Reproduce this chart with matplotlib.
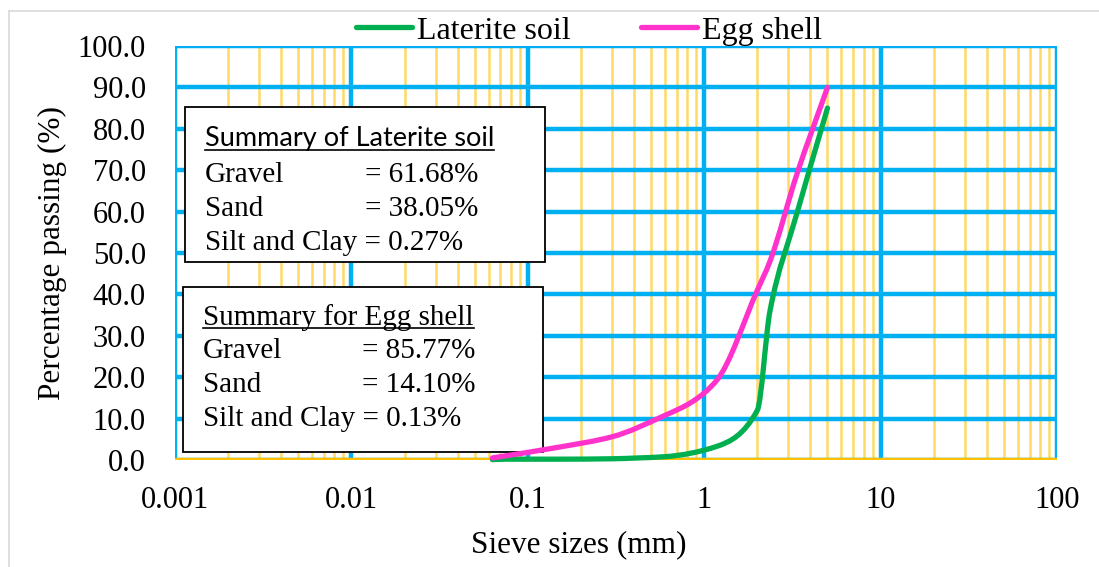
import numpy as np
import matplotlib
matplotlib.use("Agg")
import matplotlib.pyplot as plt
from matplotlib.path import Path
from matplotlib.patches import PathPatch, Rectangle
from matplotlib.lines import Line2D
from matplotlib.transforms import IdentityTransform
from matplotlib.ticker import FixedLocator, FuncFormatter, NullFormatter

# ---------------- data ----------------
sieve_laterite = [0.063, 0.075, 0.15, 0.3, 0.425, 0.6, 1.18, 2.0, 2.36, 3.35, 5.0]
pass_laterite = [0.1, 0.2, 0.2, 0.3, 0.5, 0.8, 3.3, 12.0, 36.0, 59.5, 85.0]
sieve_egg = [0.063, 0.15, 0.3, 0.6, 0.85, 1.18, 2.0, 2.36, 3.35, 5.0]
pass_egg = [0.5, 3.1, 5.6, 10.8, 14.0, 19.3, 41.0, 48.0, 69.0, 90.0]
series_names = ["Laterite soil", "Egg shell"]
x_ticks = [0.001, 0.01, 0.1, 1, 10, 100]
x_tick_labels = ["0.001", "0.01", "0.1", "1", "10", "100"]
y_ticks = [0, 10, 20, 30, 40, 50, 60, 70, 80, 90, 100]
box1_title = "Summary of Laterite soil"
box1_rows = [("Gravel", "= 61.68%"), ("Sand", "= 38.05%"), ("Silt and Clay = 0.27%", None)]
box2_title = "Summary for Egg shell"
box2_rows = [("Gravel", "= 85.77%"), ("Sand", "= 14.10%"), ("Silt and Clay = 0.13%", None)]

# ---------------- style ----------------
W, H = 1099, 567
SERIF = ["Liberation Serif", "DejaVu Serif"]
GREEN = "#00B050"
PINK = "#FF33CC"
BLUE = "#00B0F0"
YELLOW = "#FFD966"
GOLD = "#FFC000"

plt.rcParams["font.family"] = SERIF
fig = plt.figure(figsize=(W / 100, H / 100), dpi=100)
ax = fig.add_axes([175 / W, 1 - 460 / H, 882 / W, 414 / H])

ax.set_xscale("log")
ax.set_xlim(0.001, 100)
ax.set_ylim(0, 100)

for s in ax.spines.values():
    s.set_visible(False)

ax.xaxis.set_major_locator(FixedLocator(x_ticks))
ax.xaxis.set_major_formatter(FuncFormatter(lambda v, p: x_tick_labels[x_ticks.index(v)] if v in x_ticks else ""))
minor = [m * 10.0 ** e for e in range(-3, 2) for m in range(2, 10)]
ax.xaxis.set_minor_locator(FixedLocator(minor))
ax.xaxis.set_minor_formatter(NullFormatter())
ax.yaxis.set_major_locator(FixedLocator(y_ticks))
ax.yaxis.set_major_formatter(FuncFormatter(lambda v, p: f"{v:.1f}"))

ax.tick_params(axis="both", which="both", length=0)
ax.tick_params(axis="x", which="major", labelsize=22, pad=19)
ax.tick_params(axis="y", which="major", labelsize=22, pad=21)

ax.grid(True, axis="x", which="minor", color=YELLOW, lw=1.8, zorder=0)
ax.grid(True, axis="x", which="major", color=BLUE, lw=3.2, zorder=0.5)
ax.grid(True, axis="y", which="major", color=BLUE, lw=3.2, zorder=0.5)
ax.set_axisbelow(True)
# bottom gold axis line
ax.axhline(0, color=GOLD, lw=3.2, zorder=2, solid_capstyle="butt")

# summary boxes (axes fraction)
def px2ax(x, y):
    return ((x - 175) / 882, (460 - y) / 414)

b1 = px2ax(185, 262); b1t = px2ax(545, 107)
ax.add_patch(Rectangle(b1, b1t[0] - b1[0], b1t[1] - b1[1], transform=ax.transAxes,
                       facecolor="white", edgecolor="black", lw=1.3, zorder=3))
b2 = px2ax(183, 452); b2t = px2ax(543, 287)
ax.add_patch(Rectangle(b2, b2t[0] - b2[0], b2t[1] - b2[1], transform=ax.transAxes,
                       facecolor="white", edgecolor="black", lw=1.3, zorder=3))

# legend handles for lines
h1 = Line2D([], [], color=GREEN, lw=3.8, solid_capstyle="round")
h2 = Line2D([], [], color=PINK, lw=3.8, solid_capstyle="round")

fig.canvas.draw()


def smooth_path(xs, ys):
    """Monotone cubic (Fritsch-Carlson) Bezier through the data points, in display space."""
    pts = ax.transData.transform(np.column_stack([xs, ys]))
    X, Y = pts[:, 0], pts[:, 1]
    n = len(X)
    h = np.diff(X)
    d = np.diff(Y) / h
    m = np.zeros(n)
    m[0], m[-1] = d[0], d[-1]
    for k in range(1, n - 1):
        if d[k - 1] * d[k] <= 0:
            m[k] = 0.0
        else:
            w1 = 2 * h[k] + h[k - 1]
            w2 = h[k] + 2 * h[k - 1]
            m[k] = (w1 + w2) / (w1 / d[k - 1] + w2 / d[k])
    verts = [pts[0]]
    codes = [Path.MOVETO]
    for i in range(n - 1):
        c1 = (X[i] + h[i] / 3, Y[i] + m[i] * h[i] / 3)
        c2 = (X[i + 1] - h[i] / 3, Y[i + 1] - m[i + 1] * h[i] / 3)
        verts += [c1, c2, pts[i + 1]]
        codes += [Path.CURVE4] * 3
    return Path(verts, codes)


for xs, ys, c in [(sieve_laterite, pass_laterite, GREEN), (sieve_egg, pass_egg, PINK)]:
    pp = PathPatch(smooth_path(xs, ys), transform=IdentityTransform(), facecolor="none",
                   edgecolor=c, lw=3.8, capstyle="round", joinstyle="round", zorder=4)
    fig.add_artist(pp)

# texts in figure pixels
def fp(x, y):
    return (x / W, 1 - y / H)

t1 = fig.text(*fp(205, 146), box1_title, family=["Lato", "DejaVu Sans"], fontsize=19.5, va="baseline", zorder=5)
for i, (a, b) in enumerate(box1_rows):
    yb = 182 + 34 * i
    fig.text(*fp(205, yb), a, fontsize=21, va="baseline", zorder=5)
    if b:
        fig.text(*fp(365, yb), b, fontsize=21, va="baseline", zorder=5)
t2 = fig.text(*fp(203, 325), box2_title, fontsize=21, va="baseline", zorder=5)
for i, (a, b) in enumerate(box2_rows):
    yb = 358 + 34 * i
    fig.text(*fp(203, yb), a, fontsize=21, va="baseline", zorder=5)
    if b:
        fig.text(*fp(362, yb), b, fontsize=21, va="baseline", zorder=5)

fig.canvas.draw()
r = fig.canvas.get_renderer()
for t, yu in [(t1, 150), (t2, 328)]:
    bb = t.get_window_extent(r)
    fig.add_artist(Line2D([bb.x0 / W, bb.x1 / W], [1 - yu / H, 1 - yu / H], transform=fig.transFigure,
                          color="black", lw=1.2, zorder=6))

# axis labels
fig.text(*fp(579, 545), "Sieve sizes (mm)", fontsize=22.5, ha="center", va="center")
fig.text(*fp(52, 253), "Percentage passing (%)", fontsize=22.5, ha="center", va="center", rotation=90)

# legend
fig.legend([h1, h2], series_names, loc="center", bbox_to_anchor=fp(589, 31), ncol=2, frameon=False,
           fontsize=23, handlelength=1.75, handletextpad=0.16, columnspacing=2.2, borderpad=0,
           borderaxespad=0)

# figure border (light gray, top and left)
fig.add_artist(Line2D([8.5 / W, 8.5 / W], [0, 1 - 10.5 / H], transform=fig.transFigure, color="#D9D9D9", lw=1.2))
fig.add_artist(Line2D([8.5 / W, 1.0], [1 - 10.5 / H, 1 - 10.5 / H], transform=fig.transFigure, color="#D9D9D9", lw=1.2))

fig.savefig("out.png", dpi=100)
